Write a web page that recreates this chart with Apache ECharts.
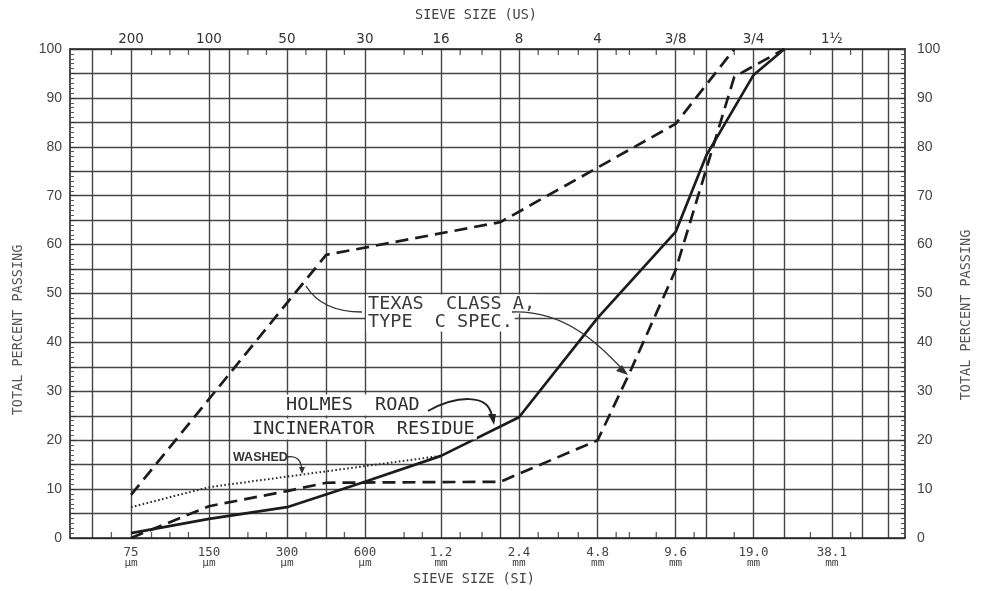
<!DOCTYPE html>
<html><head><meta charset="utf-8">
<script src="https://cdn.jsdelivr.net/npm/echarts@6/dist/echarts.min.js"></script>
<style>html,body{margin:0;padding:0;background:#fff}#c{width:985px;height:591px}</style>
</head><body><div id="c"></div>
<script>
// Sieve sizes (mm) and tick labels
const sieveSI = [0.075, 0.15, 0.3, 0.6, 1.18, 2.36, 4.75, 9.5, 19, 38.1];
const labelSI = ['75', '150', '300', '600', '1.2', '2.4', '4.8', '9.6', '19.0', '38.1'];
const unitSI = ['µm', 'µm', 'µm', 'µm', 'mm', 'mm', 'mm', 'mm', 'mm', 'mm'];
const labelUS = ['200', '100', '50', '30', '16', '8', '4', '3/8', '3/4', '1½'];
const gridSieves = [0.053, 0.075, 0.15, 0.18, 0.3, 0.425, 0.6, 1.18, 2.0, 2.36, 4.75, 9.5, 12.5, 19, 25, 38.1, 50, 63];
const minorSieves = [0.063, 0.09, 0.106, 0.125, 0.212, 0.25, 0.355, 0.5, 0.85, 1.0, 1.4, 1.7, 2.8, 3.35, 4.0, 5.6, 6.3, 8.0, 11.2, 16, 31.5, 45];

// Series (sieve size mm, total percent passing)
const holmesX = [0.075, 0.15, 0.3, 0.6, 1.18, 2.36, 4.75, 9.5, 12.5, 19, 25];
const holmesY = [1.0, 3.9, 6.3, 11.5, 16.8, 24.7, 45.0, 62.6, 78.3, 94.7, 100];
const specUpperX = [0.075, 0.425, 2.0, 9.5, 16];
const specUpperY = [8.8, 57.9, 64.6, 84.7, 100];
const specLowerX = [0.075, 0.15, 0.3, 0.425, 2.0, 4.75, 6.3, 9.5, 16, 25];
const specLowerY = [0, 6.5, 9.6, 11.3, 11.5, 20, 33.7, 54.8, 94.3, 100];
const washedX = [0.075, 0.15, 1.18];
const washedY = [6.3, 10.4, 16.8];

const pair = (xs, ys) => xs.map((x, i) => [x, ys[i]]);
const nearest = v => {
  let bi = 0, bd = Infinity;
  sieveSI.forEach((s, i) => { const d = Math.abs(Math.log(s) - Math.log(v)); if (d < bd) { bd = d; bi = i; } });
  return bi;
};

const X_MIN = 0.0436, X_MAX = 73;
const MONO = '"DejaVu Sans Mono", monospace';
const ink = '#1c1c1c';
const gridCol = '#454545';

const chart = echarts.init(document.getElementById('c'), null, { renderer: 'canvas' });
const option = {
  backgroundColor: '#fff',
  animation: false,
  grid: { left: 70, right: 80, top: 49, bottom: 53, containLabel: false },
  xAxis: [
    {
      type: 'log', logBase: 2, position: 'bottom', min: X_MIN, max: X_MAX,
      axisLine: { show: true, onZero: false, lineStyle: { color: '#222', width: 1.6 } },
      axisTick: { show: false, customValues: gridSieves },
      splitLine: { show: true, lineStyle: { color: gridCol, width: 1.4 } },
      minorSplitLine: { show: false },
      axisLabel: {
        customValues: sieveSI, margin: 9,
        formatter: v => { const i = nearest(v); return '{n|' + labelSI[i] + '}\n{u|' + unitSI[i] + '}'; },
        rich: {
          n: { fontFamily: MONO, fontSize: 12.5, color: '#444', lineHeight: 11, align: 'center' },
          u: { fontFamily: MONO, fontSize: 11, color: '#444', lineHeight: 10, align: 'center' }
        }
      }
    },
    {
      type: 'log', logBase: 2, position: 'top', min: X_MIN, max: X_MAX,
      axisLine: { show: true, onZero: false, lineStyle: { color: '#222', width: 1.6 } },
      axisTick: { show: false },
      splitLine: { show: false },
      axisLabel: {
        customValues: sieveSI, margin: 3,
        formatter: v => labelUS[nearest(v)],
        fontFamily: '"DejaVu Sans", sans-serif', fontSize: 13.5, color: '#333'
      }
    }
  ],
  yAxis: [
    {
      type: 'value', position: 'left', min: 0, max: 100, interval: 5,
      axisLine: { show: true, lineStyle: { color: '#222', width: 1.6 } },
      axisTick: { show: true, inside: true, length: 6, lineStyle: { color: '#333' } },
      minorTick: { show: true, splitNumber: 5, length: 4, lineStyle: { color: '#555' } },
      splitLine: { show: true, lineStyle: { color: gridCol, width: 1.4 } },
      axisLabel: { margin: 8, formatter: v => (v % 10 === 0 ? String(v) : ''), fontFamily: '"Liberation Sans", sans-serif', fontSize: 14, color: '#444' }
    },
    {
      type: 'value', position: 'right', min: 0, max: 100, interval: 5,
      axisLine: { show: true, lineStyle: { color: '#222', width: 1.6 } },
      axisTick: { show: true, inside: true, length: 6, lineStyle: { color: '#333' } },
      minorTick: { show: true, splitNumber: 5, length: 4, lineStyle: { color: '#555' } },
      splitLine: { show: false },
      axisLabel: { margin: 12, formatter: v => (v % 10 === 0 ? String(v) : ''), fontFamily: '"Liberation Sans", sans-serif', fontSize: 14, color: '#444' }
    }
  ],
  series: [
    {
      name: 'Minor sieve ticks (bottom)', type: 'scatter', xAxisIndex: 0, yAxisIndex: 0, silent: true, clip: false,
      data: minorSieves.map(s => [s, 0]), symbol: 'rect', symbolSize: [1.3, 6], symbolOffset: [0, -3],
      itemStyle: { color: '#333' }
    },
    {
      name: 'Minor sieve ticks (top)', type: 'scatter', xAxisIndex: 0, yAxisIndex: 0, silent: true, clip: false,
      data: minorSieves.map(s => [s, 100]), symbol: 'rect', symbolSize: [1.3, 6], symbolOffset: [0, 3],
      itemStyle: { color: '#333' }
    },
    {
      name: 'Texas Class A, Type C Spec. (upper)', type: 'line', data: pair(specUpperX, specUpperY),
      showSymbol: false, lineStyle: { color: ink, width: 2.7, type: [13, 7] }, z: 3
    },
    {
      name: 'Texas Class A, Type C Spec. (lower)', type: 'line', data: pair(specLowerX, specLowerY),
      showSymbol: false, lineStyle: { color: ink, width: 2.7, type: [13, 7] }, z: 3
    },
    {
      name: 'Washed', type: 'line', data: pair(washedX, washedY),
      showSymbol: false, lineStyle: { color: '#2a2a2a', width: 2, type: [1.6, 2.4] }, z: 3
    },
    {
      name: 'Holmes Road Incinerator Residue', type: 'line', data: pair(holmesX, holmesY),
      showSymbol: false, lineStyle: { color: ink, width: 2.7 }, z: 4
    }
  ],
  graphic: [
    // titles and axis names
    { type: 'text', style: { text: 'SIEVE SIZE (US)', x: 476, y: 15, align: 'center', verticalAlign: 'middle', font: '13.5px ' + MONO, fill: '#444' } },
    { type: 'text', style: { text: 'SIEVE SIZE (SI)', x: 474, y: 579, align: 'center', verticalAlign: 'middle', font: '13.5px ' + MONO, fill: '#444' } },
    { type: 'text', x: 18, y: 330, rotation: Math.PI / 2, style: { text: 'TOTAL PERCENT PASSING', x: 0, y: 0, align: 'center', verticalAlign: 'middle', font: '13.5px ' + MONO, fill: '#555' } },
    { type: 'text', x: 966, y: 315, rotation: Math.PI / 2, style: { text: 'TOTAL PERCENT PASSING', x: 0, y: 0, align: 'center', verticalAlign: 'middle', font: '13.5px ' + MONO, fill: '#555' } },
    // Texas annotation
    { type: 'text', z: 10, style: { text: 'TEXAS  CLASS A,', x: 366, y: 304, verticalAlign: 'middle', font: '18.5px ' + MONO, fill: '#3a3a3a', backgroundColor: '#fff', padding: [0, 2] } },
    { type: 'text', z: 10, style: { text: 'TYPE  C SPEC.', x: 366, y: 322, verticalAlign: 'middle', font: '18.5px ' + MONO, fill: '#3a3a3a', backgroundColor: '#fff', padding: [0, 2] } },
    { type: 'bezierCurve', z: 11, shape: { x1: 362, y1: 312, x2: 306, y2: 286, cpx1: 322, cpy1: 312 }, style: { stroke: '#333', lineWidth: 1.4, fill: null } },
    { type: 'bezierCurve', z: 11, shape: { x1: 512, y1: 312, x2: 624, y2: 371, cpx1: 565, cpy1: 310, cpx2: 600, cpy2: 345 }, style: { stroke: '#333', lineWidth: 1.4, fill: null } },
    { type: 'polygon', z: 11, shape: { points: [[628, 375], [616, 371], [622, 365]] }, style: { fill: '#333' } },
    // Holmes annotation
    { type: 'text', z: 10, style: { text: 'HOLMES  ROAD', x: 284, y: 405, verticalAlign: 'middle', font: '18.5px ' + MONO, fill: '#2e2e2e', backgroundColor: '#fff', padding: [1, 2] } },
    { type: 'text', z: 10, style: { text: 'INCINERATOR  RESIDUE', x: 250, y: 429, verticalAlign: 'middle', font: '18.5px ' + MONO, fill: '#2e2e2e', backgroundColor: '#fff', padding: [1, 2] } },
    { type: 'bezierCurve', z: 11, shape: { x1: 428, y1: 411, x2: 492, y2: 418, cpx1: 455, cpy1: 396, cpx2: 490, cpy2: 392 }, style: { stroke: '#222', lineWidth: 2, fill: null } },
    { type: 'polygon', z: 11, shape: { points: [[494, 425], [488, 414], [496, 414]] }, style: { fill: '#222' } },
    // Washed annotation
    { type: 'text', z: 10, style: { text: 'WASHED', x: 233, y: 458, verticalAlign: 'middle', font: 'bold 12.5px "Liberation Sans", sans-serif', fill: '#333' } },
    { type: 'bezierCurve', z: 11, shape: { x1: 287, y1: 457, x2: 302, y2: 471, cpx1: 301, cpy1: 454 }, style: { stroke: '#333', lineWidth: 1.3, fill: null } },
    { type: 'polygon', z: 11, shape: { points: [[302, 474], [299, 467], [305, 467]] }, style: { fill: '#333' } }
  ]
};
chart.setOption(option);
</script>
</body></html>
